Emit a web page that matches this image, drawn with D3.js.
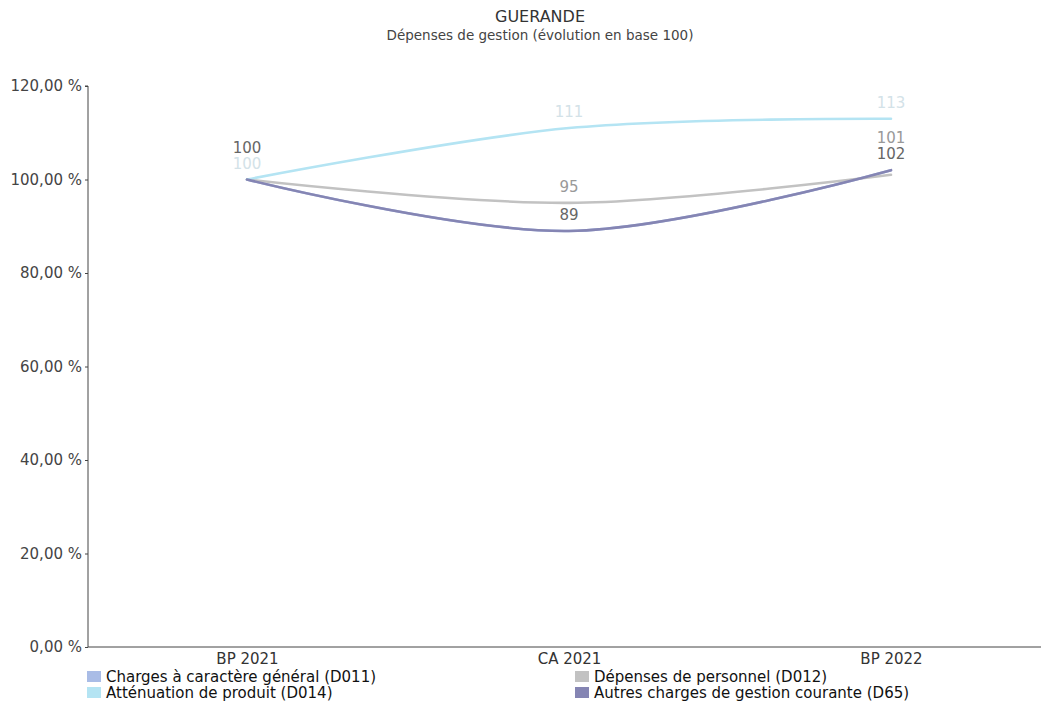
<!DOCTYPE html>
<html>
<head>
<meta charset="utf-8">
<script src="https://cdn.jsdelivr.net/npm/d3@7"></script>
<style>
  body { margin: 0; background: #fff; }
  svg { display: block; }
</style>
</head>
<body>
<div id="chart"></div>
<script>
// data
const categories = ["BP 2021", "CA 2021", "BP 2022"];
const seriesNames = [
    "Charges à caractère général (D011)",
    "Dépenses de personnel (D012)",
    "Atténuation de produit (D014)",
    "Autres charges de gestion courante (D65)"
];
const d011 = [100, 89, 102];
const d012 = [100, 95, 101];
const d014 = [100, 111, 113];
const d65 = [100, 89, 102];
const yTicks = [0, 20, 40, 60, 80, 100, 120];

const lineColors = ["#a9bce6", "#c2c2c2", "#b4e4f3", "#8585b3"];
const labelColors = ["#666", "#999", "#d3e2e8", "#666"];

const width = 1041, height = 711;
const font = "'DejaVu Sans', sans-serif";

const svg = d3.select("#chart").append("svg")
    .attr("width", width)
    .attr("height", height)
    .style("font-family", font);

const x = d3.scalePoint().domain(categories)
    .range([86, 1052]).padding(0.5);
const y = d3.scaleLinear().domain([0, 120])
    .range([647, 86]);
const axisLeft = 88;

// title
svg.append("text")
    .attr("x", 540).attr("y", 22)
    .attr("text-anchor", "middle")
    .style("font-size", "16px").style("fill", "#333")
    .text("GUERANDE");
svg.append("text")
    .attr("x", 540).attr("y", 40)
    .attr("text-anchor", "middle")
    .style("font-size", "13.5px").style("fill", "#444")
    .text("Dépenses de gestion (évolution en base 100)");

// axes
const fmt = d => d3.format(".2f")(d).replace(".", ",") + " %";
const yAxis = svg.append("g")
    .attr("transform", `translate(${axisLeft},0)`)
    .call(d3.axisLeft(y).tickValues(yTicks).tickFormat(fmt).tickSize(3).tickPadding(3));
yAxis.select(".domain").attr("stroke", "#444").attr("d", `M-3,${y(120)}H0V${y(0)}`);
yAxis.selectAll(".tick line").attr("stroke", "#444");
yAxis.selectAll("text").style("font-size", "15px").style("fill", "#444")
    .style("font-family", font);

const xAxis = svg.append("g")
    .attr("transform", `translate(0,${y(0)})`)
    .call(d3.axisBottom(x).tickSize(0).tickPadding(6));
xAxis.select(".domain").attr("stroke", "#444").attr("d", `M${axisLeft},0H${width}`);
xAxis.selectAll("text").style("font-size", "15px").style("fill", "#333")
    .style("font-family", font);

// lines
const allSeries = [d011, d012, d014, d65];
const line = d3.line()
    .x((d, i) => x(categories[i]))
    .y(d => y(d))
    .curve(d3.curveCardinal);

allSeries.forEach((vals, s) => {
    svg.append("path")
        .datum(vals)
        .attr("fill", "none")
        .attr("stroke", lineColors[s])
        .attr("stroke-width", 2.6)
        .attr("stroke-linecap", "round")
        .attr("d", line);
});

// data labels: shifted up on overlap, hidden if still crowded
const labelOrder = [2, 0, 1, 3];
categories.forEach((c, i) => {
    const placed = [];
    labelOrder.forEach(s => {
        const vals = allSeries[s];
        let ly = y(vals[i]) - 11;
        let shifts = 0;
        let hit = placed.find(p => Math.abs(p - ly) < 14);
        while (hit !== undefined && shifts < 2) {
            ly = hit - 16;
            shifts++;
            hit = placed.find(p => Math.abs(p - ly) < 14);
        }
        if (hit !== undefined || shifts > 1) return;
        placed.push(ly);
        svg.append("text")
            .attr("x", x(c)).attr("y", ly)
            .attr("text-anchor", "middle")
            .style("font-size", "15px")
            .style("fill", labelColors[s])
            .text(vals[i]);
    });
});

// legend
const legendPos = [[87, 682], [575, 682], [87, 698], [575, 698]];
const legendOrder = [0, 1, 2, 3];
legendOrder.forEach((s, k) => {
    const g = svg.append("g").attr("transform", `translate(${legendPos[k][0]},${legendPos[k][1]})`);
    g.append("rect")
        .attr("x", 0).attr("y", -11)
        .attr("width", 14).attr("height", 11)
        .attr("fill", lineColors[s]);
    g.append("text")
        .attr("x", 19).attr("y", 0)
        .style("font-size", "15px")
        .style("fill", "#111")
        .text(seriesNames[s]);
});
</script>
</body>
</html>
